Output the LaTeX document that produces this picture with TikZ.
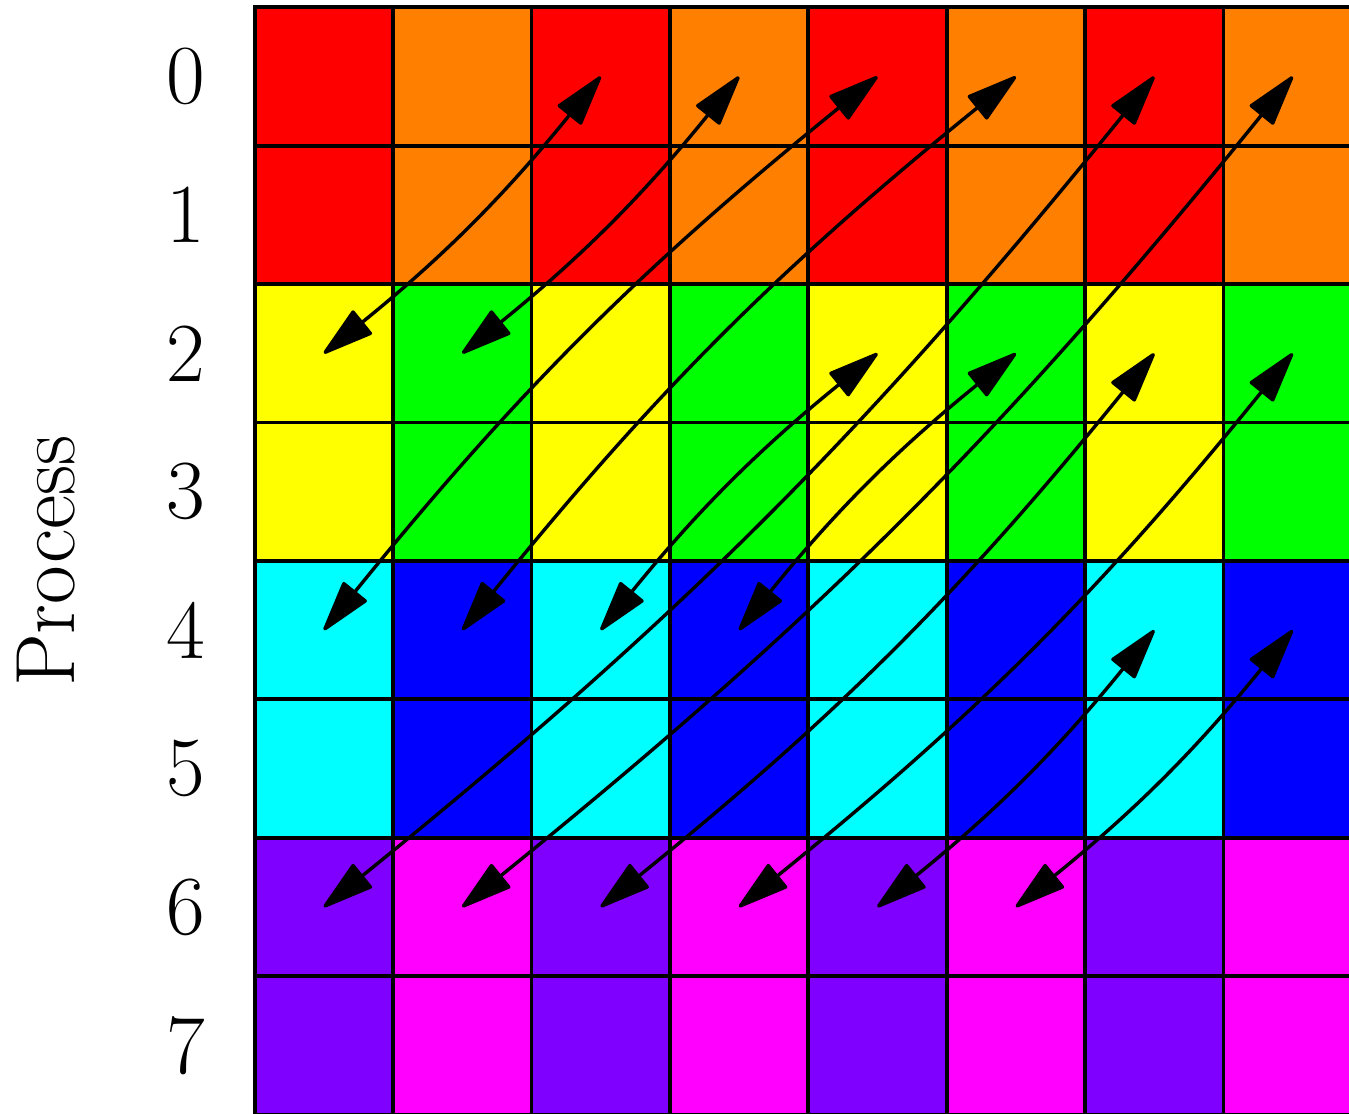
\documentclass[tikz,border=0pt]{standalone}
\usetikzlibrary{arrows.meta}
\definecolor{pc00}{HTML}{FF0000}
\definecolor{pc01}{HTML}{FF8000}
\definecolor{pc10}{HTML}{FFFF00}
\definecolor{pc11}{HTML}{00FF00}
\definecolor{pc20}{HTML}{00FFFF}
\definecolor{pc21}{HTML}{0000FF}
\definecolor{pc30}{HTML}{8000FF}
\definecolor{pc31}{HTML}{FF00FF}
\tikzset{
  cellbox/.style={draw=black, line width=0.8pt, minimum size=1cm, inner sep=0pt, outer sep=0pt},
  rowlabel/.style={font=\LARGE, inner sep=0pt},
  xfer/.style={line width=0.7pt,
    {Triangle[length=11.3pt,width=6.4pt,round]}-{Triangle[length=11.3pt,width=6.4pt,round]}},
  bl/.style={bend left=6},
  br/.style={bend right=6}
}
\begin{document}
\begin{tikzpicture}
\clip (-1.840,0.053) rectangle (7.907,-7.99);
\foreach \r in {0,...,7}{
  \foreach \c in {0,...,7}{
    \pgfmathtruncatemacro\p{int(\r/2)}
    \pgfmathtruncatemacro\q{mod(\c,2)}
    \node[cellbox, fill=pc\p\q] (cell-\r-\c) at (\c+0.5,-\r-0.5) {};
  }
  \node[rowlabel] (lbl-\r) at (-0.5,-\r-0.5) {\r};
}
\node[font=\LARGE, rotate=90] (proc) at (-1.51,-4.0) {Process};
\foreach \ra/\ca/\rb/\cb/\bs in {0/2/2/0/bl, 0/3/2/1/bl, 0/4/4/0/br, 0/5/4/1/br,
  0/6/6/0/bl, 0/7/6/1/bl, 2/4/4/2/br, 2/5/4/3/br, 2/6/6/2/bl, 2/7/6/3/bl,
  4/6/6/4/bl, 4/7/6/5/bl}{
  \draw[xfer] (cell-\ra-\ca.center) to[\bs] (cell-\rb-\cb.center);
}
\end{tikzpicture}
\end{document}
